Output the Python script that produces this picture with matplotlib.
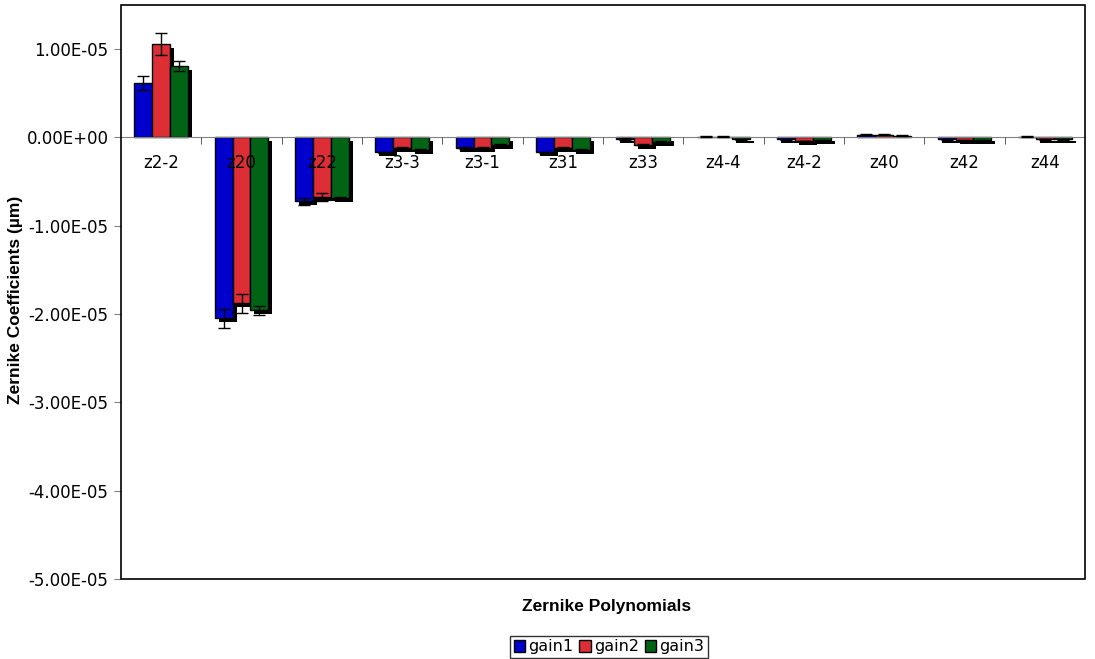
import numpy as np
import matplotlib
matplotlib.use("Agg")
import matplotlib.pyplot as plt
from matplotlib.patches import Rectangle
from matplotlib.ticker import FuncFormatter, FixedLocator
from matplotlib.transforms import ScaledTranslation

categories = ["z2-2", "z20", "z22", "z3-3", "z3-1", "z31", "z33",
              "z4-4", "z4-2", "z40", "z42", "z44"]
series_names = ["gain1", "gain2", "gain3"]

gain1 = [0.62e-5, -2.05e-5, -0.72e-5, -0.17e-5, -0.12e-5, -0.17e-5, -0.02e-5,
         0.01e-5, -0.02e-5, 0.03e-5, -0.02e-5, 0.01e-5]
gain2 = [1.06e-5, -1.88e-5, -0.67e-5, -0.12e-5, -0.12e-5, -0.12e-5, -0.08e-5,
         0.01e-5, -0.04e-5, 0.03e-5, -0.03e-5, -0.02e-5]
gain3 = [0.81e-5, -1.955e-5, -0.69e-5, -0.14e-5, -0.08e-5, -0.14e-5, -0.05e-5,
         -0.02e-5, -0.03e-5, 0.02e-5, -0.03e-5, -0.02e-5]

err1 = [0.08e-5, 0.11e-5, 0.04e-5, 0.01e-5, 0.01e-5, 0.01e-5, 0.01e-5,
        0.005e-5, 0.005e-5, 0.005e-5, 0.005e-5, 0.005e-5]
err2 = [0.125e-5, 0.11e-5, 0.045e-5, 0.01e-5, 0.01e-5, 0.01e-5, 0.01e-5,
        0.005e-5, 0.005e-5, 0.005e-5, 0.005e-5, 0.005e-5]
err3 = [0.06e-5, 0.05e-5, 0.02e-5, 0.01e-5, 0.01e-5, 0.01e-5, 0.01e-5,
        0.005e-5, 0.005e-5, 0.005e-5, 0.005e-5, 0.005e-5]

yticks = [-5e-5, -4e-5, -3e-5, -2e-5, -1e-5, 0.0, 1e-5]

colors = ["#0000CC", "#DD2E36", "#006414"]

fig = plt.figure(figsize=(10.95, 6.59), dpi=100)
ax = fig.add_axes([121 / 1095, 1 - 579 / 659, 964 / 1095, 574 / 659])

x = np.arange(len(categories))
width = 0.224
shadow = ax.transData + ScaledTranslation(4 / 100, -4 / 100, fig.dpi_scale_trans)

ax.set_xlim(-0.5, len(categories) - 0.5)
ax.set_ylim(-5e-5, 1.5e-5)

# shadow of positive bars stops at the zero line
upper = Rectangle((-0.5, 0), len(categories), 1.5e-5, transform=ax.transData)

for i, vals in enumerate([gain1, gain2, gain3]):
    pos = x + (i - 1) * width
    bars = ax.bar(pos, vals, width, color="black", linewidth=0,
                  transform=shadow, zorder=1)
    for b, v in zip(bars, vals):
        if v > 0:
            b.set_clip_path(upper)

for i, (vals, errs) in enumerate(zip([gain1, gain2, gain3], [err1, err2, err3])):
    pos = x + (i - 1) * width
    ax.bar(pos, vals, width, color=colors[i], edgecolor="black", linewidth=1,
           label=series_names[i], zorder=2)
    ax.errorbar(pos, vals, yerr=errs, fmt="none", ecolor="black",
                elinewidth=1, capsize=4, capthick=1, zorder=3)

ax.set_axisbelow(False)
ax.set_yticks(yticks)
ax.yaxis.set_major_formatter(FuncFormatter(lambda v, p: f"{v:.2E}"))
ax.tick_params(axis="y", direction="out", length=5, color="#808080",
               labelsize=12, pad=4)

# category axis sits on zero
for s in ["top", "right", "left"]:
    ax.spines[s].set_visible(False)
ax.spines["bottom"].set_position(("data", 0))
ax.spines["bottom"].set_color("#808080")
ax.set_xticks(x)
ax.set_xticklabels(categories)
ax.xaxis.set_minor_locator(FixedLocator(x[:-1] + 0.5))
ax.tick_params(axis="x", which="major", length=0, labelsize=12, pad=12)
ax.tick_params(axis="x", which="minor", direction="out", length=5, color="#404040")

ax.add_patch(Rectangle((0, 0), 1, 1, transform=ax.transAxes, fill=False,
                       edgecolor="black", linewidth=1.2, zorder=5, clip_on=False))

fig.text(0.014, 1 - 300 / 659, "Zernike Coefficients (µm)", rotation=90,
         ha="center", va="center", fontsize=12.5, fontweight="bold",
         family="Liberation Sans")
fig.text(607 / 1095, 1 - 607 / 659, "Zernike Polynomials", ha="center",
         va="center", fontsize=12.5, fontweight="bold", family="Liberation Sans")

leg = fig.legend(loc="center", bbox_to_anchor=(609 / 1095, 1 - 647 / 659), ncol=3,
                 fontsize=11.5, frameon=True, fancybox=False, edgecolor="black",
                 handlelength=0.7, handleheight=0.7, handletextpad=0.2,
                 columnspacing=0.4, borderpad=0.2, borderaxespad=0)
leg.get_frame().set_linewidth(1)

fig.savefig("out.png", dpi=100)
